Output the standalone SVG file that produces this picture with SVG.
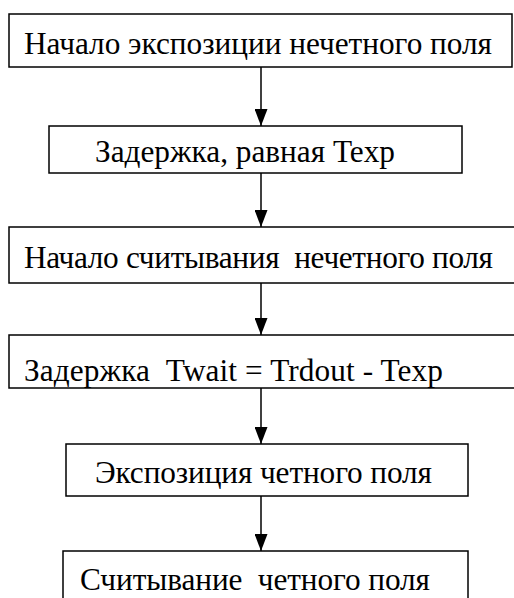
<svg xmlns="http://www.w3.org/2000/svg" width="514" height="598" viewBox="0 0 514 598">
<style>
.box{fill:#fff;stroke:#000;stroke-width:1.5}
.t{font-family:'Liberation Serif','Times New Roman',serif;font-size:31.3px;fill:#000;white-space:pre}
.c{stroke:#000;stroke-width:1.5;fill:none}
</style>
<defs>
<marker id="ah" markerWidth="17" markerHeight="13" refX="17" refY="6.5" orient="auto" markerUnits="userSpaceOnUse" viewBox="0 0 17 13">
<path d="M0,0 L17,6.5 L0,13 Z" fill="#000"/>
</marker>
</defs>
<rect width="514" height="598" fill="#fff"/>
<g id="n1"><rect class="box" x="9" y="14" width="503" height="53"/><text class="t" x="24" y="54" textLength="468" lengthAdjust="spacing">Начало экспозиции нечетного поля</text></g>
<g id="n2"><rect class="box" x="49" y="126" width="413" height="47"/><text class="t" x="95" y="162" textLength="300" lengthAdjust="spacing">Задержка, равная Texp</text></g>
<g id="n3"><rect class="box" x="9" y="227" width="520" height="56"/><text class="t" x="24" y="268" textLength="469" lengthAdjust="spacing" xml:space="preserve">Начало считывания  нечетного поля</text></g>
<g id="n4"><rect class="box" x="9" y="335" width="520" height="53"/><text class="t" x="24" y="381" textLength="419" lengthAdjust="spacing" xml:space="preserve">Задержка  Twait = Trdout - Texp</text></g>
<g id="n5"><rect class="box" x="66" y="444" width="402" height="52"/><text class="t" x="95" y="483" textLength="337" lengthAdjust="spacing">Экспозиция четного поля</text></g>
<g id="n6"><rect class="box" x="63" y="551" width="405" height="60"/><text class="t" x="80" y="590" textLength="350" lengthAdjust="spacing" xml:space="preserve">Считывание  четного поля</text></g>
<g id="connectors">
<line class="c" x1="261" y1="67" x2="261" y2="126" marker-end="url(#ah)"/>
<line class="c" x1="261" y1="173" x2="261" y2="227" marker-end="url(#ah)"/>
<line class="c" x1="261" y1="283" x2="261" y2="335" marker-end="url(#ah)"/>
<line class="c" x1="261" y1="388" x2="261" y2="444" marker-end="url(#ah)"/>
<line class="c" x1="261" y1="496" x2="261" y2="551" marker-end="url(#ah)"/>
</g>
</svg>
